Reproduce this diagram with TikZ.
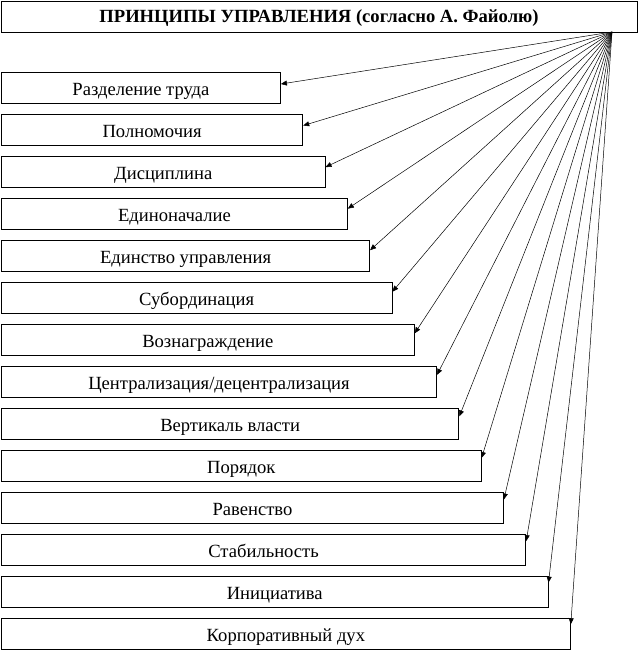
\documentclass[tikz,border=0pt]{standalone}
\usepackage{fontspec}
\setmainfont{Liberation Serif}
\usetikzlibrary{arrows.meta,calc}
\begin{document}
\begin{tikzpicture}[x=1pt,y=-1pt,
  box/.style={draw,line width=0.9pt,inner sep=0pt,minimum height=31pt,anchor=north west,
    text height=17pt,text depth=2pt,font=\fontsize{18.6}{20}\selectfont},
  titlebox/.style={draw,line width=0.9pt,inner sep=0pt,minimum height=31pt,minimum width=636pt,
    text height=14.5pt,text depth=2pt,font=\fontsize{18.6}{20}\selectfont\bfseries},
  arr/.style={line width=0.5pt,-{Triangle[length=6pt,width=5pt]}}]
\useasboundingbox (0,0) rectangle (638,650);
\node[titlebox] (title) at (319,16.5) {ПРИНЦИПЫ УПРАВЛЕНИЯ (согласно А. Файолю)};
\coordinate (fan) at (612,32);
\foreach \i/\t in {1/{Разделение труда},2/{Полномочия},3/{Дисциплина},4/{Единоначалие},
  5/{Единство управления},6/{Субординация},7/{Вознаграждение},8/{Централизация/децентрализация},
  9/{Вертикаль власти},10/{Порядок},11/{Равенство},12/{Стабильность},13/{Инициатива},14/{Корпоративный дух}}{
  \pgfmathsetmacro{\w}{279+22.3*(\i-1)}
  \pgfmathsetmacro{\top}{72+42*(\i-1)}
  \pgfmathsetmacro{\off}{12-0.45*(\i-1)}
  \node[box,minimum width=\w pt] (b\i) at (1,\top) {\t};
  \draw[arr] (fan) -- ($(b\i.north east)+(0,\off)$);
}
\end{tikzpicture}
\end{document}
